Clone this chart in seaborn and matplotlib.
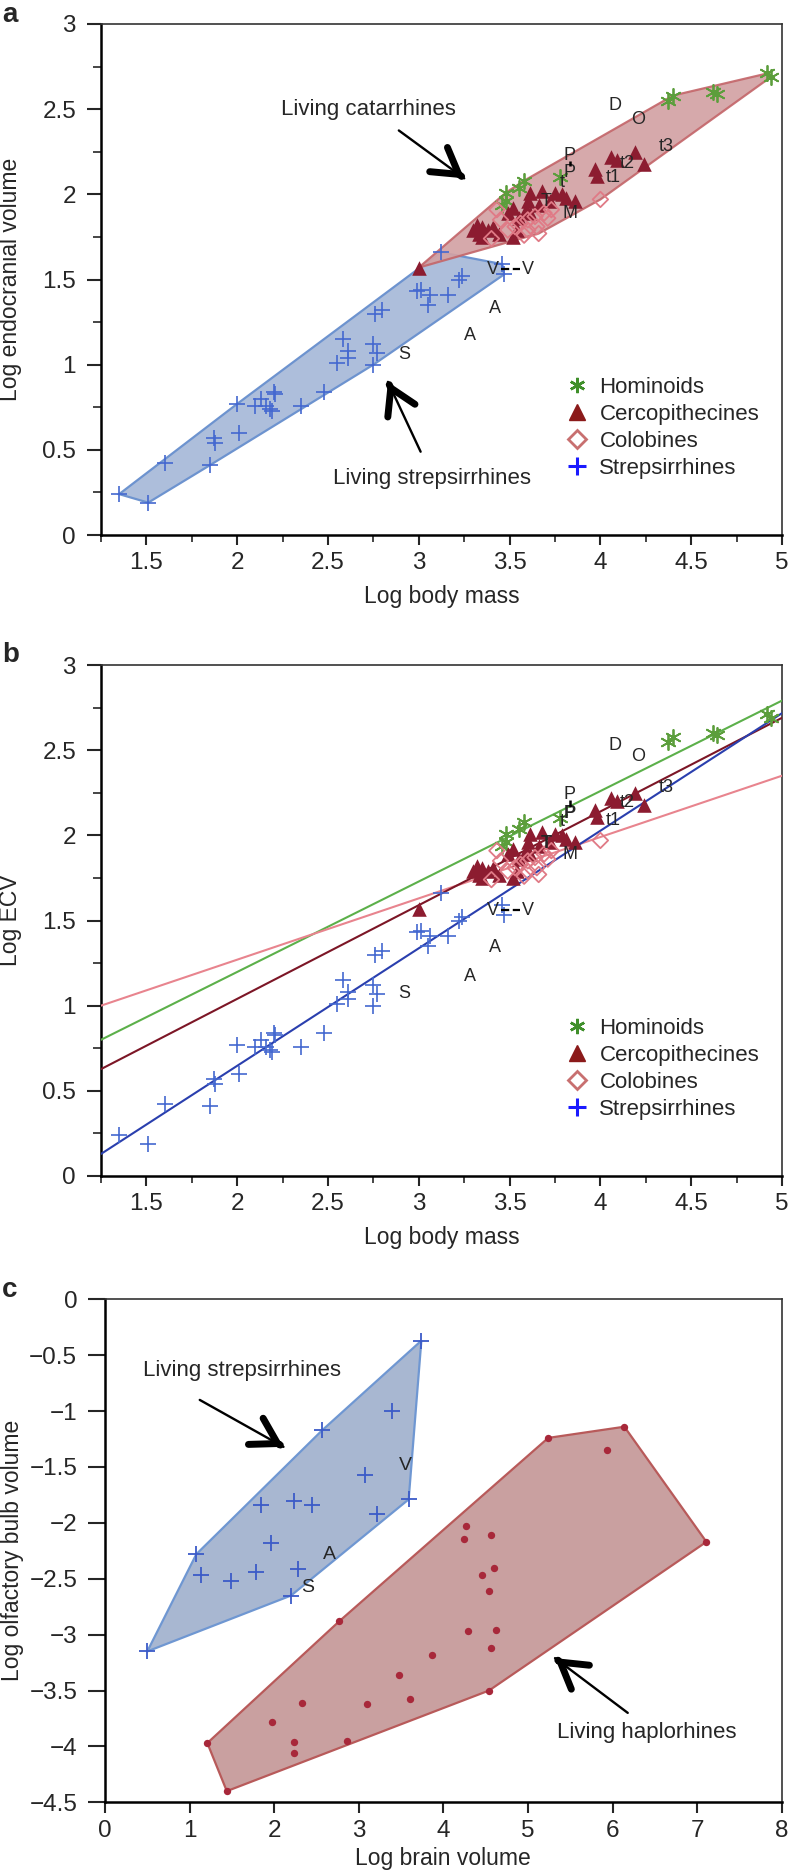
import matplotlib
matplotlib.use("Agg")
import matplotlib.pyplot as plt
import numpy as np
import seaborn as sns
from matplotlib.lines import Line2D
from matplotlib.ticker import MultipleLocator, FuncFormatter

# ---- panels a/b: log body mass vs log endocranial volume ----
strep_mass = [1.35, 1.51, 1.60, 1.85, 1.87, 1.88, 2.01, 2.00, 2.10, 2.13, 2.16, 2.18,
              2.19, 2.20, 2.21, 2.35, 2.48, 2.55, 2.58, 2.61, 2.61, 2.75, 2.75, 2.77,
              2.76, 2.80, 2.99, 3.01, 3.05, 3.06, 3.16, 3.22, 3.24, 3.12, 3.46, 3.47]
strep_ecv = [0.24, 0.19, 0.42, 0.41, 0.57, 0.54, 0.60, 0.77, 0.76, 0.80, 0.76, 0.74,
             0.73, 0.84, 0.83, 0.76, 0.84, 1.01, 1.15, 1.08, 1.04, 1.00, 1.12, 1.07,
             1.30, 1.32, 1.43, 1.44, 1.35, 1.41, 1.41, 1.50, 1.52, 1.66, 1.59, 1.53]

hom_mass = [4.92, 4.94, 4.62, 4.64, 4.37, 4.40, 3.78, 3.58, 3.55, 3.48, 3.48, 3.46]
hom_ecv = [2.71, 2.69, 2.60, 2.59, 2.55, 2.58, 2.10, 2.08, 2.04, 2.01, 1.96, 1.94]

cerc_mass = [3.00, 3.30, 3.33, 3.35, 3.35, 3.38, 3.41, 3.49, 3.52, 3.55, 3.61, 3.60,
             3.59, 3.68, 3.75, 3.79, 3.86, 3.81, 3.72, 3.66, 3.61, 3.97, 3.98, 4.06,
             4.09, 4.19, 4.24, 3.54, 3.52, 3.32, 3.44]
cerc_ecv = [1.57, 1.79, 1.77, 1.81, 1.75, 1.79, 1.81, 1.89, 1.92, 1.86, 2.01, 1.96,
            1.91, 2.02, 2.01, 2.00, 1.96, 1.98, 1.96, 1.94, 1.89, 2.15, 2.11, 2.22,
            2.20, 2.25, 2.18, 1.79, 1.75, 1.82, 1.77]

colob_mass = [4.00, 3.66, 3.40, 3.43, 3.45, 3.49, 3.53, 3.56, 3.60, 3.64, 3.69, 3.73,
              3.71, 3.65, 3.60, 3.58]
colob_ecv = [1.97, 1.77, 1.74, 1.91, 1.85, 1.79, 1.81, 1.83, 1.85, 1.87, 1.89, 1.91,
             1.86, 1.81, 1.79, 1.76]

# fossil specimens
fossil_text = ["D", "O", "t3", "t2", "t1", "P", "P", "t", "T", "M", "V", "V", "A", "A", "S"]
fossil_x = [4.08, 4.21, 4.36, 4.15, 4.07, 3.83, 3.83, 3.79, 3.70, 3.83, 3.41, 3.60, 3.42, 3.28, 2.92]
fossil_y_a = [2.52, 2.44, 2.28, 2.18, 2.10, 2.23, 2.13, 2.07, 1.96, 1.89, 1.56, 1.56, 1.33, 1.17, 1.06]
fossil_y_b = [2.53, 2.46, 2.28, 2.19, 2.09, 2.24, 2.13, 2.08, 1.95, 1.89, 1.56, 1.56, 1.34, 1.17, 1.07]

# panel b regression lines: hominoids, colobines, cercopithecines, strepsirrhines
fit_names = ["Hominoids", "Colobines", "Cercopithecines", "Strepsirrhines"]
fit_slope = [0.531, 0.360, 0.550, 0.690]
fit_intercept = [0.136, 0.550, -0.060, -0.733]

# ---- panel c: log brain volume vs log olfactory bulb volume ----
c_strep_brain = [0.50, 1.08, 1.13, 1.49, 1.79, 1.84, 1.96, 2.20, 2.24, 2.28, 2.45, 2.57,
                 3.07, 3.22, 3.39, 3.59, 3.74]
c_strep_ob = [-3.15, -2.28, -2.47, -2.52, -2.44, -1.84, -2.18, -2.65, -1.80, -2.41, -1.84,
              -1.17, -1.57, -1.92, -1.00, -1.79, -0.37]
c_haplo_brain = [1.21, 1.44, 1.97, 2.23, 2.24, 2.33, 2.77, 2.86, 3.10, 3.47, 3.61, 3.87,
                 4.29, 4.54, 4.56, 4.62, 4.24, 4.27, 4.56, 4.60, 4.46, 4.54, 5.24, 6.14,
                 5.93, 7.11]
c_haplo_ob = [-3.97, -4.40, -3.78, -3.96, -4.06, -3.61, -2.88, -3.95, -3.62, -3.36, -3.58,
              -3.18, -2.97, -3.50, -3.12, -2.96, -2.14, -2.03, -2.11, -2.40, -2.47, -2.61,
              -1.24, -1.14, -1.35, -2.17]
c_fossil_text = ["A", "S", "V"]
c_fossil_x = [2.65, 2.40, 3.55]
c_fossil_y = [-2.28, -2.58, -1.49]

STREP = "#4468d0"
HOM = "#5c9e3c"
CERC = "#8c1c30"
COLOB = "#e07a86"
FIT_COLORS = ["#5cb04a", "#e8848e", "#7c1626", "#2a3fae"]

sns.set_style("ticks")
plt.rcParams["font.family"] = ["Liberation Sans", "DejaVu Sans"]
plt.rcParams["axes.unicode_minus"] = True


def convex_hull(xs, ys):
    pts = sorted(set(zip(xs, ys)))

    def cross(o, a, b):
        return (a[0] - o[0]) * (b[1] - o[1]) - (a[1] - o[1]) * (b[0] - o[0])

    lower, upper = [], []
    for p in pts:
        while len(lower) >= 2 and cross(lower[-2], lower[-1], p) <= 0:
            lower.pop()
        lower.append(p)
    for p in reversed(pts):
        while len(upper) >= 2 and cross(upper[-2], upper[-1], p) <= 0:
            upper.pop()
        upper.append(p)
    return np.array(lower[:-1] + upper[:-1])


def fmt(v, pos):
    return f"{v:g}".replace("-", "\u2212")


def style_axes(ax, minor=True):
    for s in ["left", "bottom"]:
        ax.spines[s].set_linewidth(1.8)
        ax.spines[s].set_color("black")
    for s in ["top", "right"]:
        ax.spines[s].set_linewidth(1.2)
        ax.spines[s].set_color("#333333")
    ax.xaxis.set_major_formatter(FuncFormatter(fmt))
    ax.yaxis.set_major_formatter(FuncFormatter(fmt))
    ax.tick_params(axis="y", which="major", length=10, width=1.5, pad=8, labelsize=17.5)
    ax.tick_params(axis="x", which="major", length=7, width=1.5, pad=5, labelsize=17.5)
    if minor:
        ax.tick_params(axis="y", which="minor", length=6, width=1.2)
        ax.tick_params(axis="x", which="minor", length=5, width=1.2)
    ax.tick_params(top=False, right=False, which="both")


def arrow(ax, tail, head, scale=24):
    ax.annotate("", xy=head, xytext=tail,
                arrowprops=dict(arrowstyle="-", lw=1.7, color="black", shrinkA=0, shrinkB=0))
    near = (head[0] + 0.04 * (tail[0] - head[0]), head[1] + 0.04 * (tail[1] - head[1]))
    ax.annotate("", xy=head, xytext=near,
                arrowprops=dict(arrowstyle="->,head_length=0.75,head_width=0.45", lw=5,
                                color="black", shrinkA=0, shrinkB=0, mutation_scale=scale))


def catarrhine_points(ax):
    sns.scatterplot(x=hom_mass, y=hom_ecv, ax=ax, marker=(6, 2, 0), color=HOM, s=120,
                    linewidth=1.3, zorder=4, legend=False)
    sns.scatterplot(x=cerc_mass, y=cerc_ecv, ax=ax, marker="^", color=CERC, s=110,
                    linewidth=0, zorder=4, legend=False)
    sns.scatterplot(x=colob_mass, y=colob_ecv, ax=ax, marker="D", facecolor="none",
                    edgecolor=COLOB, s=62, linewidth=1.3, zorder=5, legend=False)
    sns.scatterplot(x=strep_mass, y=strep_ecv, ax=ax, marker="+", color=STREP, s=130,
                    linewidth=1.2, zorder=4, legend=False)


def fossils(ax, ys, bold=()):
    for i, (t, x, y) in enumerate(zip(fossil_text, fossil_x, ys)):
        ax.text(x, y, t, ha="center", va="center", fontsize=13, zorder=6,
                fontweight="bold" if i in bold else "normal")
    ax.plot([fossil_x[5], fossil_x[6]], [ys[6] + 0.035, ys[5] - 0.035], color="black",
            ls="--", lw=1.8, zorder=6)
    ax.plot([fossil_x[10] + 0.04, fossil_x[11] - 0.04], [ys[10], ys[11]], color="black",
            ls="--", lw=1.6, zorder=6)


def legend(ax):
    handles = [
        Line2D([], [], ls="none", marker=(6, 2, 0), color="#3f8f2a", markersize=11, mew=1.8),
        Line2D([], [], ls="none", marker="^", color="#8b1a1a", markersize=11),
        Line2D([], [], ls="none", marker="D", mfc="none", mec="#c87070", markersize=9, mew=2),
        Line2D([], [], ls="none", marker="+", color="#1a1aff", markersize=13, mew=2.2),
    ]
    labels = ["Hominoids", "Cercopithecines", "Colobines", "Strepsirrhines"]
    ax.legend(handles, labels, loc="center left", bbox_to_anchor=(0.683, 0.209),
              frameon=False, fontsize=16, handlelength=1.0, handletextpad=0.5,
              labelspacing=0.27, borderpad=0, borderaxespad=0)


def setup_ab(ax, ylabel):
    ax.set_xlim(1.25, 5)
    ax.set_ylim(0, 3)
    ax.xaxis.set_major_locator(MultipleLocator(0.5))
    ax.xaxis.set_minor_locator(MultipleLocator(0.25))
    ax.yaxis.set_major_locator(MultipleLocator(0.5))
    ax.yaxis.set_minor_locator(MultipleLocator(0.25))
    style_axes(ax)
    ax.set_xlabel("Log body mass", fontsize=16.5)
    ax.set_ylabel(ylabel, fontsize=16.5)
    ax.xaxis.set_label_coords(0.5, -0.098)
    ax.yaxis.set_label_coords(-0.116, 0.5)


fig = plt.figure(figsize=(7.88, 18.73), dpi=100)
ax_a = fig.add_axes([101 / 788, 1 - 535 / 1873, 681 / 788, 511 / 1873])
ax_b = fig.add_axes([101 / 788, 1 - 1176 / 1873, 681 / 788, 511 / 1873])
ax_c = fig.add_axes([105 / 788, 1 - 1802.3 / 1873, 676.7 / 788, 503 / 1873])

# ---- panel a ----
h = convex_hull(strep_mass, strep_ecv)
ax_a.fill(h[:, 0], h[:, 1], facecolor="#adbedb", edgecolor="#6d93cf", lw=1.6, zorder=1)
h = convex_hull(hom_mass + cerc_mass + colob_mass, hom_ecv + cerc_ecv + colob_ecv)
ax_a.fill(h[:, 0], h[:, 1], facecolor="#d3a2a4", edgecolor="#c4676b", lw=1.6, zorder=2,
          alpha=0.92)
catarrhine_points(ax_a)
fossils(ax_a, fossil_y_a)
ax_a.text(2.72, 2.50, "Living catarrhines", ha="center", va="center", fontsize=16)
arrow(ax_a, (2.89, 2.375), (3.25, 2.094))
ax_a.text(3.07, 0.33, "Living strepsirrhines", ha="center", va="center", fontsize=16)
arrow(ax_a, (3.01, 0.489), (2.83, 0.899))
legend(ax_a)
setup_ab(ax_a, "Log endocranial volume")

# ---- panel b ----
xs = np.array([1.25, 5.0])
for name, slope, icpt, col in zip(fit_names, fit_slope, fit_intercept, FIT_COLORS):
    sns.lineplot(x=xs, y=icpt + slope * xs, ax=ax_b, color=col, lw=1.5, zorder=3,
                 legend=False)
catarrhine_points(ax_b)
fossils(ax_b, fossil_y_b, bold=(6, 8))
legend(ax_b)
setup_ab(ax_b, "Log ECV")

# ---- panel c ----
h = convex_hull(c_strep_brain, c_strep_ob)
ax_c.fill(h[:, 0], h[:, 1], facecolor="#a8b7d1", edgecolor="#6f97d2", lw=1.6, zorder=1)
h = convex_hull(c_haplo_brain, c_haplo_ob)
ax_c.fill(h[:, 0], h[:, 1], facecolor="#c9a0a0", edgecolor="#b85a5a", lw=1.6, zorder=1)
sns.scatterplot(x=c_strep_brain, y=c_strep_ob, ax=ax_c, marker="+", color="#3b5bc8",
                s=130, linewidth=1.3, zorder=4, legend=False)
sns.scatterplot(x=c_haplo_brain, y=c_haplo_ob, ax=ax_c, marker="o", color="#a8283a",
                s=28, linewidth=0, zorder=4, legend=False)
for t, x, y in zip(c_fossil_text, c_fossil_x, c_fossil_y):
    ax_c.text(x, y, t, ha="center", va="center", fontsize=14, zorder=6)
ax_c.text(1.62, -0.64, "Living strepsirrhines", ha="center", va="center", fontsize=16)
arrow(ax_c, (1.12, -0.90), (2.11, -1.32))
ax_c.text(6.41, -3.88, "Living haplorhines", ha="center", va="center", fontsize=16)
arrow(ax_c, (6.18, -3.70), (5.32, -3.21))
ax_c.set_xlim(0, 8)
ax_c.set_ylim(-4.5, 0)
ax_c.xaxis.set_major_locator(MultipleLocator(1))
ax_c.yaxis.set_major_locator(MultipleLocator(0.5))
style_axes(ax_c, minor=False)
ax_c.tick_params(axis="y", which="major", length=12)
ax_c.tick_params(axis="x", which="major", length=8)
ax_c.set_xlabel("Log brain volume", fontsize=16.5)
ax_c.set_ylabel("Log olfactory bulb volume", fontsize=16.5)
ax_c.xaxis.set_label_coords(0.5, -0.089)
ax_c.yaxis.set_label_coords(-0.12, 0.5)

for label, ypx in [("a", 22), ("b", 662), ("c", 1297)]:
    fig.text(2 / 788, 1 - ypx / 1873, label, fontsize=20, fontweight="bold",
             ha="left", va="baseline")

fig.savefig("out.png", dpi=100)
